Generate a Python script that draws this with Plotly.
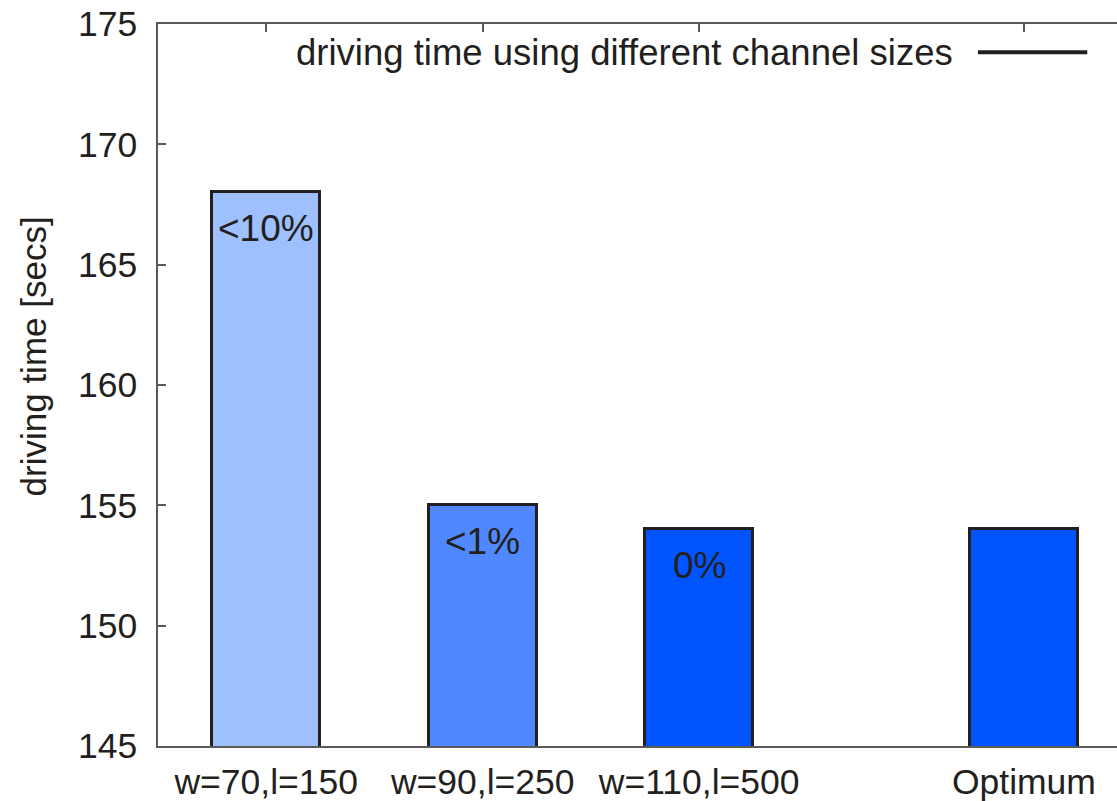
import plotly.graph_objects as go

# Driving time for each channel configuration
categories = ["w=70,l=150", "w=90,l=250", "w=110,l=500", "Optimum"]
driving_time = [168, 155, 154, 154]
gap_labels = ["<10%", "<1%", "0%", ""]
y_ticks = [145, 150, 155, 160, 165, 170, 175]

# layout / style
x_pos = [0, 1, 2, 3.5]
bar_colors = ["#9fc0ff", "#5089ff", "#0055ff", "#0055ff"]
ink = "#231f20"
axis_grey = "#5a5a5a"
FONT = "Liberation Sans, Arial, sans-serif"

fig = go.Figure()
fig.add_trace(go.Bar(
    x=x_pos, y=driving_time, width=0.5,
    marker=dict(color=bar_colors, line=dict(color=ink, width=3)),
    showlegend=False,
))

# percentage labels just inside the top of each bar
for xp, val, lab in zip(x_pos, driving_time, gap_labels):
    if lab:
        fig.add_annotation(x=xp, y=val, text=lab, showarrow=False,
                           yanchor="top", yshift=-14,
                           font=dict(family=FONT, size=37, color=ink))

# key: caption followed by a line sample
fig.add_annotation(xref="paper", yref="paper", x=0.831, y=0.961,
                   text="driving time using different channel sizes",
                   showarrow=False, xanchor="right", yanchor="middle",
                   font=dict(family=FONT, size=36.5, color=ink))
fig.add_shape(type="line", xref="paper", yref="paper",
              x0=0.855, x1=0.969, y0=0.961, y1=0.961,
              line=dict(color=ink, width=4))

# y axis title
fig.add_annotation(xref="paper", yref="paper", x=-0.130, y=0.540,
                   text="driving time [secs]", textangle=-90, showarrow=False,
                   xanchor="center", yanchor="middle",
                   font=dict(family=FONT, size=35, color=ink))

fig.update_xaxes(
    range=[-0.5, 3.93], tickvals=x_pos, ticktext=categories,
    showline=True, linecolor=axis_grey, linewidth=1.5, mirror="ticks",
    ticks="inside", ticklen=8, tickcolor=axis_grey, tickwidth=1.5,
    showgrid=False, zeroline=False, layer="below traces",
    ticklabelstandoff=4,
    tickfont=dict(family=FONT, size=35.5, color=ink),
)
fig.update_yaxes(
    range=[145, 175], tickvals=y_ticks,
    showline=True, linecolor=axis_grey, linewidth=1.5,
    ticks="inside", ticklen=8, tickcolor=axis_grey, tickwidth=1.5,
    showgrid=False, zeroline=False, ticklabelstandoff=12,
    tickfont=dict(family=FONT, size=35.5, color=ink),
)
fig.update_layout(
    width=1117, height=801,
    margin=dict(l=158, r=0, t=24, b=55),
    plot_bgcolor="white", paper_bgcolor="white",
    bargap=0,
)

fig.write_html("out.html")
